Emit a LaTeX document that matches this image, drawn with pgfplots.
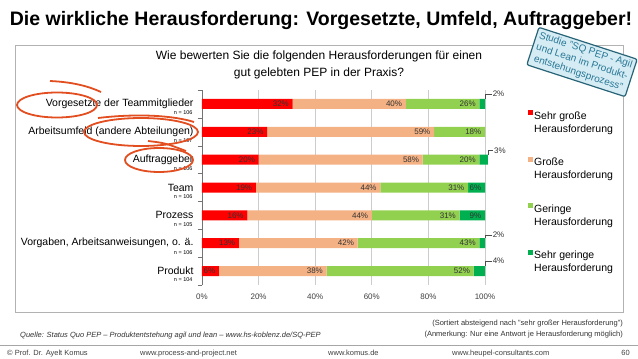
\documentclass[border=0pt]{standalone}
\usepackage{pgfplots}
\usepackage{pgfplotstable}
\pgfplotsset{compat=1.18}
\usepackage{fontspec}
\setmainfont{Liberation Sans}
\definecolor{cRed}{RGB}{255,0,0}
\definecolor{cOrange}{RGB}{244,177,131}
\definecolor{cLGreen}{RGB}{146,208,80}
\definecolor{cDGreen}{RGB}{0,176,80}
\definecolor{hand}{RGB}{226,78,32}
\definecolor{stampfill}{RGB}{214,236,244}
\definecolor{stampdraw}{RGB}{40,100,120}
\definecolor{stamptext}{RGB}{40,120,150}
\newcommand\fs[1]{\fontsize{#1}{#1}\selectfont}
\pgfplotstableread{
y r  o  g  dg
0 6  38 52 4
1 13 42 43 2
2 16 44 31 9
3 19 44 31 6
4 20 58 20 3
5 23 59 18 0
6 32 40 26 2
}\data
\begin{document}
\begin{tikzpicture}
\useasboundingbox (0,0) rectangle (638pt,-359pt);
\fill[white] (0,0) rectangle (638pt,-359pt);
\begin{scope}[x=1pt,y=-1pt]
\draw[black!30, line width=0.8pt] (15,45) rectangle (623,312);
\node[anchor=base, font=\fs{19.5}\bfseries, inner sep=0pt] at (321,25) {Die wirkliche Herausforderung: Vorgesetzte, Umfeld, Auftraggeber!};
\node[anchor=base, font=\fs{12}, inner sep=0pt] at (319,59) {Wie bewerten Sie die folgenden Herausforderungen für einen};
\node[anchor=base, font=\fs{12}, inner sep=0pt] at (319,76) {gut gelebten PEP in der Praxis?};
% footer
\draw[black!35, line width=0.6pt] (0,345) -- (638,345);
\node[anchor=base west, font=\fs{7.5}, text=black!75, inner sep=0pt] at (7,355) {© Prof. Dr. Ayelt Komus};
\node[anchor=base west, font=\fs{7.5}, text=black!75, inner sep=0pt] at (140,355) {www.process-and-project.net};
\node[anchor=base west, font=\fs{7.5}, text=black!75, inner sep=0pt] at (328,355) {www.komus.de};
\node[anchor=base west, font=\fs{7.5}, text=black!75, inner sep=0pt] at (452,355) {www.heupel-consultants.com};
\node[anchor=base east, font=\fs{7.5}, text=black!75, inner sep=0pt] at (630,355) {60};
\node[anchor=base west, font=\fs{7.5}\itshape, text=black!80, inner sep=0pt] at (20,337) {Quelle: Status Quo PEP – Produktentstehung agil und lean – www.hs-koblenz.de/SQ-PEP};
\node[anchor=base east, font=\fs{7.5}, text=black!80, inner sep=0pt] at (623,325) {(Sortiert absteigend nach "sehr großer Herausforderung")};
\node[anchor=base east, font=\fs{7.5}, text=black!80, inner sep=0pt] at (623,336) {(Anmerkung: Nur eine Antwort je Herausforderung möglich)};
\end{scope}
\begin{axis}[
  at={(202pt,-285pt)}, anchor=south west,
  scale only axis, width=283pt, height=195pt,
  xbar stacked, bar width=10pt,
  xmin=0, xmax=100, ymin=-0.5, ymax=6.5,
  axis lines*=left,
  x axis line style={draw=none},
  y axis line style={draw=black!55},
  /pgf/number format/assume math mode=true,
  xtick={0,20,40,60,80,100},
  xticklabels={0\%,20\%,40\%,60\%,80\%,100\%},
  xticklabel style={font=\fs{8}, text=black!75, yshift=-5pt},
  xmajorgrids, major grid style={draw=black!20, line width=0.6pt},
  ytick={0,...,6},
  yticklabels={Produkt, {Vorgaben, Arbeitsanweisungen, o. ä.}, Prozess, Team, Auftraggeber, {Arbeitsumfeld (andere Abteilungen)}, Vorgesetzte der Teammitglieder},
  yticklabel style={font=\fs{10.5}, text=black, xshift=-5pt},
  extra y ticks={0,...,6},
  extra y tick labels={n = 104, n = 106, n = 105, n = 106, n = 106, n = 107, n = 106},
  extra y tick style={yticklabel style={font=\fs{5.5}, yshift=-9pt, xshift=-1pt}},
  major tick length=0pt,
  minor ytick={-0.5,0.5,...,6.5},
  minor tick length=4pt, tick align=outside,
  minor tick style={draw=black!55},
  nodes near coords={\ifdim\val pt<5pt\else\pgfmathprintnumber[assume math mode=true]{\val}\%\fi},
  every node near coord/.style={anchor=east, font=\fs{8}, text=black!80, inner sep=0.5pt, xshift={\val*1.415pt-3pt}},
  legend style={at={(rel axis cs:1,1)}, anchor=north west, xshift=40pt, yshift=-18pt, draw=none, fill=none, font=\fontsize{10.5}{13}\selectfont, row sep=22pt, nodes={align=left, inner sep=1pt}},
  legend cell align=left,
  legend image code/.code={\fill[#1] (0pt,7.5pt) rectangle (5pt,12.5pt);},
  clip=false,
]
\addplot[fill=cRed, draw=none, visualization depends on={\thisrow{r} \as \val}] table[x=r, y=y] {\data};
\addlegendentry{Sehr große\\Herausforderung}
\addplot[fill=cOrange, draw=none, visualization depends on={\thisrow{o} \as \val}] table[x=o, y=y] {\data};
\addlegendentry{Große\\Herausforderung}
\addplot[fill=cLGreen, draw=none, visualization depends on={\thisrow{g} \as \val}] table[x=g, y=y] {\data};
\addlegendentry{Geringe\\Herausforderung}
\addplot[fill=cDGreen, draw=none, visualization depends on={\thisrow{dg} \as \val}] table[x=dg, y=y] {\data};
\addlegendentry{Sehr geringe\\Herausforderung}
\draw[black!70, line width=0.5pt] (axis cs:100.2,6.18) |- (axis cs:102.3,6.36) node[anchor=west, font=\fs{8}, text=black!80, inner sep=1pt] {2\%};
\draw[black!70, line width=0.5pt] (axis cs:101.2,4.18) |- (axis cs:102.8,4.33) node[anchor=west, font=\fs{8}, text=black!80, inner sep=1pt] {3\%};
\draw[black!70, line width=0.5pt] (axis cs:100.2,1.18) |- (axis cs:102.3,1.3) node[anchor=west, font=\fs{8}, text=black!80, inner sep=1pt] {2\%};
\draw[black!70, line width=0.5pt] (axis cs:100.2,0.18) |- (axis cs:102.3,0.36) node[anchor=west, font=\fs{8}, text=black!80, inner sep=1pt] {4\%};
\end{axis}
\begin{scope}[x=1pt,y=-1pt, hand, line width=1.8pt]
\draw (57,105) ellipse [x radius=40, y radius=12.5];
\draw (50,81) .. controls (72,82) and (88,86) .. (101,92);
\draw (141,132) ellipse [x radius=57, y radius=14];
\draw (98,118) .. controls (140,113) and (175,116) .. (194,122);
\draw (159,160) ellipse [x radius=34, y radius=12];
\draw (148,141) .. controls (165,143) .. (186,151);
\end{scope}
\node[rotate=-18, fill=stampfill, draw=stampdraw, line width=1.2pt, rounded corners=2pt, text=stamptext, font=\fontsize{10}{12}\selectfont, align=center, inner sep=3pt] at (582pt,-62pt) {Studie "SQ PEP - Agil\\und Lean im Produkt-\\entstehungsprozess"};
\end{tikzpicture}
\end{document}
